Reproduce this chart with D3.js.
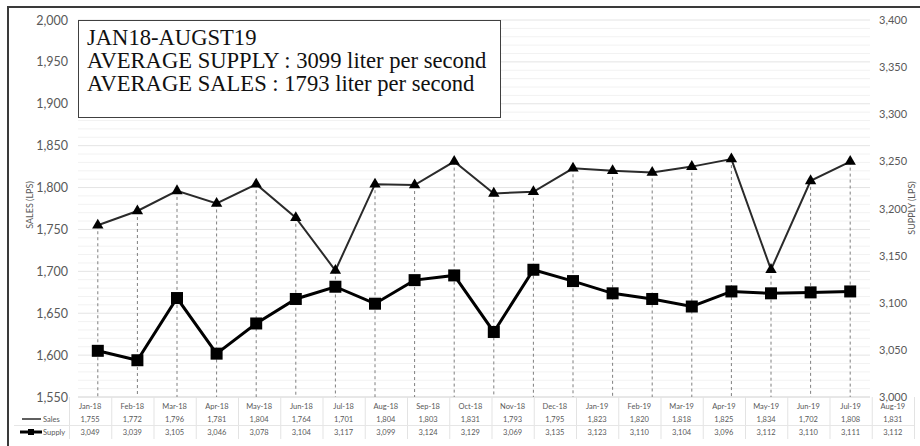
<!DOCTYPE html>
<html>
<head>
<meta charset="utf-8">
<script src="https://cdn.jsdelivr.net/npm/d3@7"></script>
<style>
  body { margin: 0; background: #fff; }
  svg { display: block; }
</style>
</head>
<body>
<div id="chart"></div>
<script>
// Data.
const months = ['Jan-18', 'Feb-18', 'Mar-18', 'Apr-18', 'May-18', 'Jun-18', 'Jul-18', 'Aug-18', 'Sep-18', 'Oct-18',
    'Nov-18', 'Dec-18', 'Jan-19', 'Feb-19', 'Mar-19', 'Apr-19', 'May-19', 'Jun-19', 'Jul-19', 'Aug-19'];
const sales = [1755, 1772, 1796, 1781, 1804, 1764, 1701, 1804, 1803, 1831,
    1793, 1795, 1823, 1820, 1818, 1825, 1834, 1702, 1808, 1831];
const supply = [3049, 3039, 3105, 3046, 3078, 3104, 3117, 3099, 3124, 3129,
    3069, 3135, 3123, 3110, 3104, 3096, 3112, 3110, 3111, 3112];
const salesTicks = [1550, 1600, 1650, 1700, 1750, 1800, 1850, 1900, 1950, 2000];
const supplyTicks = [3000, 3050, 3100, 3150, 3200, 3250, 3300, 3350, 3400];
const boxLines = ['JAN18-AUGST19', 'AVERAGE SUPPLY : 3099 liter per second', 'AVERAGE SALES : 1793 liter per second'];

// Dimensions.
const W = 920, H = 446;
const plot = { left: 78, right: 870, top: 20, bottom: 397 };
const font = 'Lato, "Liberation Sans", sans-serif';
const grey = '#595959';

const svg = d3.select('#chart')
    .append('svg')
        .attr('width', W)
        .attr('height', H);

// Scales.
const x = d3.scalePoint().domain(months).range([plot.left, plot.right]).padding(0.5);
const ySales = d3.scaleLinear().domain([1550, 2000]).range([plot.bottom, plot.top]);
const ySupply = d3.scaleLinear().domain([3000, 3400]).range([plot.bottom, plot.top]);
const tableX = d3.scaleBand().domain(months).range([69, 914]);

// Outer frame (cut off at right and bottom).
svg.append('path')
    .attr('d', `M8,${H} V7 H${W}`)
    .attr('fill', 'none')
    .attr('stroke', '#3a3a3a')
    .attr('stroke-width', 2);

// Gridlines: minor every 10, major every 50.
const grid = svg.append('g');
grid.selectAll('line.minor')
    .data(d3.range(1550, 2001, 10).filter(v => v % 50 !== 0))
    .join('line')
        .attr('class', 'minor')
        .attr('x1', plot.left).attr('x2', plot.right)
        .attr('y1', d => ySales(d)).attr('y2', d => ySales(d))
        .attr('stroke', '#f2f2f2');
grid.selectAll('line.major')
    .data(salesTicks)
    .join('line')
        .attr('class', 'major')
        .attr('x1', plot.left).attr('x2', plot.right)
        .attr('y1', d => ySales(d)).attr('y2', d => ySales(d))
        .attr('stroke', d => d === 1550 ? '#d0d0d0' : '#e4e4e4');

// Left axis.
const leftAxis = svg.append('g')
    .attr('transform', `translate(${plot.left},0)`)
    .call(d3.axisLeft(ySales).tickValues(salesTicks).tickFormat(d3.format(',')).tickSize(0).tickPadding(10));
leftAxis.select('.domain').remove();
leftAxis.selectAll('text').attr('font-family', font).attr('font-size', 12.5).attr('fill', grey);

// Right axis.
const rightAxis = svg.append('g')
    .attr('transform', `translate(${plot.right},0)`)
    .call(d3.axisRight(ySupply).tickValues(supplyTicks).tickFormat(d3.format(',')).tickSize(0).tickPadding(9));
rightAxis.select('.domain').remove();
rightAxis.selectAll('text').attr('font-family', font).attr('font-size', 11).attr('fill', grey);

// Axis titles.
svg.append('text')
    .attr('transform', 'translate(33,205) rotate(-90)')
    .attr('text-anchor', 'middle')
    .attr('font-family', font).attr('font-size', 9).attr('fill', grey)
    .text('SALES (LPS)');
svg.append('text')
    .attr('transform', 'translate(915,208) rotate(-90)')
    .attr('text-anchor', 'middle')
    .attr('font-family', font).attr('font-size', 9).attr('fill', grey)
    .text('SUPPLY (LPS)');

// Drop lines.
svg.append('g')
    .selectAll('line')
    .data(months)
    .join('line')
        .attr('x1', d => x(d)).attr('x2', d => x(d))
        .attr('y1', (d, i) => Math.min(ySales(sales[i]), ySupply(supply[i])))
        .attr('y2', plot.bottom)
        .attr('stroke', '#7f7f7f')
        .attr('stroke-dasharray', '3,3');

// Series lines.
const salesLine = d3.line().x((d, i) => x(months[i])).y(d => ySales(d));
const supplyLine = d3.line().x((d, i) => x(months[i])).y(d => ySupply(d));

svg.append('path')
    .datum(supply)
    .attr('d', supplyLine)
    .attr('fill', 'none')
    .attr('stroke', '#000')
    .attr('stroke-width', 3);

svg.append('path')
    .datum(sales)
    .attr('d', salesLine)
    .attr('fill', 'none')
    .attr('stroke', '#2a2a2a')
    .attr('stroke-width', 2);

// Markers.
const tri = d3.symbol().type(d3.symbolTriangle).size(56);
svg.append('g')
    .selectAll('path')
    .data(sales)
    .join('path')
        .attr('d', tri)
        .attr('transform', (d, i) => `translate(${x(months[i])},${ySales(d)})`)
        .attr('fill', '#000');

svg.append('g')
    .selectAll('rect')
    .data(supply)
    .join('rect')
        .attr('x', (d, i) => x(months[i]) - 6)
        .attr('y', d => ySupply(d) - 6)
        .attr('width', 12)
        .attr('height', 12)
        .attr('fill', '#000');

// Text box.
const box = svg.append('g');
box.append('rect')
    .attr('x', 78.5).attr('y', 20.5)
    .attr('width', 422).attr('height', 97)
    .attr('fill', '#fff')
    .attr('stroke', '#404040');
box.selectAll('text')
    .data(boxLines)
    .join('text')
        .attr('x', 87)
        .attr('y', (d, i) => 45 + i * 23)
        .attr('font-family', '"Liberation Serif", "Times New Roman", serif')
        .attr('font-size', 22.6)
        .attr('fill', '#111')
        .text(d => d);

// Data table.
const table = svg.append('g');
table.selectAll('line.col')
    .data(months.concat(['end']))
    .join('line')
        .attr('class', 'col')
        .attr('x1', (d, i) => 69 + i * tableX.step() + 0.5)
        .attr('x2', (d, i) => 69 + i * tableX.step() + 0.5)
        .attr('y1', plot.bottom)
        .attr('y2', 439)
        .attr('stroke', '#e3e3e3');
table.append('line')
    .attr('x1', 14).attr('x2', 914)
    .attr('y1', 425.5).attr('y2', 425.5)
    .attr('stroke', '#e6e6e6');

const rows = [
    { y: 409, values: months },
    { y: 422, values: sales.map(d3.format(',')) },
    { y: 435, values: supply.map(d3.format(',')) }
];
rows.forEach(r => {
    table.append('g')
        .selectAll('text')
        .data(r.values)
        .join('text')
            .attr('x', (d, i) => tableX(months[i]) + tableX.bandwidth() / 2)
            .attr('y', r.y)
            .attr('text-anchor', 'middle')
            .attr('font-family', font)
            .attr('font-size', 7.5)
            .attr('fill', grey)
            .text(d => d);
});

// Legend keys inside the table.
table.append('line')
    .attr('x1', 22).attr('x2', 41).attr('y1', 419).attr('y2', 419)
    .attr('stroke', '#2a2a2a').attr('stroke-width', 1.5);
table.append('text')
    .attr('x', 43).attr('y', 422)
    .attr('font-family', font).attr('font-size', 7.5).attr('fill', grey)
    .text('Sales');
table.append('line')
    .attr('x1', 20).attr('x2', 42).attr('y1', 432).attr('y2', 432)
    .attr('stroke', '#000').attr('stroke-width', 3);
table.append('rect')
    .attr('x', 28).attr('y', 429).attr('width', 6).attr('height', 6)
    .attr('fill', '#000');
table.append('text')
    .attr('x', 43).attr('y', 435)
    .attr('font-family', font).attr('font-size', 7.5).attr('fill', grey)
    .text('Supply');
</script>
</body>
</html>
